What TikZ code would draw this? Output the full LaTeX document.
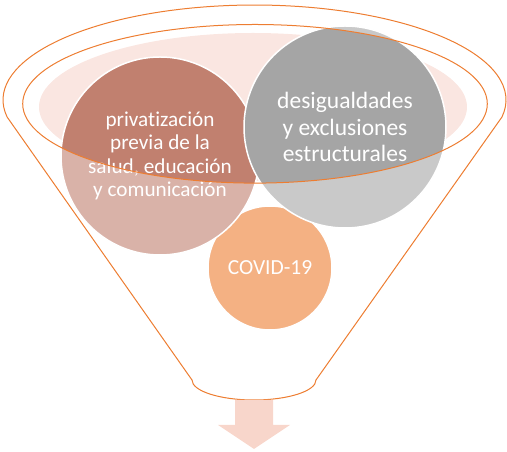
\documentclass[tikz,border=0pt]{standalone}
\usepackage{fontspec}
\setmainfont{Carlito}[Ligatures=NoCommon]
\definecolor{funnelorange}{RGB}{237,125,49}
\definecolor{brownfill}{RGB}{193,128,111}
\definecolor{grayfill}{RGB}{165,165,165}
\definecolor{mouthpink}{RGB}{250,230,225}
\definecolor{arrowpink}{RGB}{248,214,203}
\begin{document}
\begin{tikzpicture}[x=1pt, y=1pt,
  ball/.style={circle, draw=white, line width=1.5pt, text=white, align=center, inner sep=0pt},
  rim/.style={draw=funnelorange, line width=1pt}]

  \useasboundingbox (0,0) rectangle (507,452);

  % mouth of the funnel
  \fill[mouthpink] (253,345) ellipse [x radius=214, y radius=74];

  \node[ball, fill=funnelorange, minimum size=124pt, font=\fontsize{21.5}{26}\selectfont] (covid) at (270,184) {COVID-19};
  \node[ball, fill=brownfill, minimum size=198pt, font=\fontsize{21.2}{23.5}\selectfont] (priv) at (160,296)
    {privatización\\previa de la\\salud, educación\\y comunicación};
  \node[ball, fill=grayfill, minimum size=202pt, font=\fontsize{23.5}{26.5}\selectfont] (desig) at (345,325)
    {desigualdades\\y exclusiones\\estructurales};

  % body of the funnel fades what lies below the mouth
  \fill[white, opacity=0.4, even odd rule]
    (7.1,335) arc[start angle=190.3, end angle=-10.3, x radius=251.5, y radius=95]
    -- (316,72) arc[start angle=0, end angle=-180, x radius=62, y radius=20] -- cycle
    (255,348.2) ellipse [x radius=232.3, y radius=79.3];

  \draw[rim] (255,348.2) ellipse [x radius=232.3, y radius=79.3];
  \draw[rim] (7.1,335) arc[start angle=190.3, end angle=-10.3, x radius=251.5, y radius=95]
    -- (316,72) arc[start angle=0, end angle=-180, x radius=62, y radius=20] -- cycle;

  % outlet arrow
  \fill[arrowpink] (235,52) -- (273,52) -- (273,27) -- (290,27) -- (254,3) -- (218,27) -- (235,27) -- cycle;

\end{tikzpicture}
\end{document}
